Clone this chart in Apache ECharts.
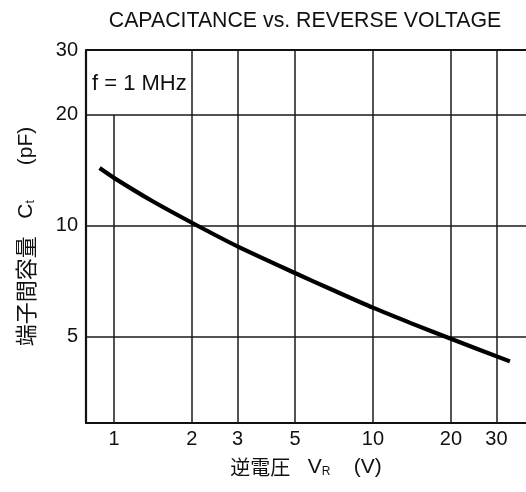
<!DOCTYPE html>
<html>
<head>
<meta charset="utf-8">
<script src="https://cdn.jsdelivr.net/npm/echarts@6/dist/echarts.min.js"></script>
<style>html,body{margin:0;padding:0;background:#fff}#c{width:526px;height:492px}</style>
</head>
<body>
<div id="c"></div>
<script>
// Data (log-log)
const reverseVoltage = [0.88, 1, 1.4, 2, 3, 5, 7, 10, 14, 20, 33.8];          // V_R (V)
const capacitance    = [14.35, 13.5, 11.7, 10.2, 8.8, 7.45, 6.7, 6.0, 5.45, 4.94, 4.29]; // C_t (pF)
const xTicks = [1, 2, 3, 5, 10, 20, 30];
const yTicks = [5, 10, 20, 30];
const xRange = [0.78, 39];
const yRange = [2.92, 30];
const fullVerticalGrid = [2, 3, 5, 10, 20, 30];
const shortVerticalGrid = [1];   // stops at the "f = 1 MHz" box (C = 20)
const boxBottom = 20;
const horizontalGrid = [5, 10, 20];

const FONT = '"Liberation Sans", Arial, "Noto Sans CJK JP", sans-serif';
const CJK = '"Noto Sans CJK JP", sans-serif';
const INK = '#111';

const curve = reverseVoltage.map((v, i) => [v, capacitance[i]]);
const gridLines = [];
fullVerticalGrid.forEach(v => gridLines.push({ xAxis: v }));
shortVerticalGrid.forEach(v => gridLines.push([{ coord: [v, yRange[0]] }, { coord: [v, boxBottom] }]));
horizontalGrid.forEach(c => gridLines.push({ yAxis: c }));
gridLines.push({ yAxis: yRange[1], lineStyle: { width: 2.2, color: INK, type: 'solid' } });

const sub = { fontSize: 12, fontFamily: FONT, color: INK, verticalAlign: 'bottom', padding: [8, 0, 0, 0] };

const chart = echarts.init(document.getElementById('c'), null, { renderer: 'canvas' });
chart.setOption({
  animation: false,
  backgroundColor: '#fff',
  grid: { left: 86, right: 0, top: 50, bottom: 69, containLabel: false },
  xAxis: {
    type: 'log', logBase: 10, min: xRange[0], max: xRange[1],
    name: '{cjk|逆電圧}   V{sub|R}    (V)',
    nameLocation: 'middle', nameGap: 34,
    nameTextStyle: {
      color: INK, fontSize: 21, fontFamily: FONT,
      rich: { sub: sub, cjk: { fontSize: 20, fontFamily: CJK, color: INK } }
    },
    axisLine: { show: true, lineStyle: { color: INK, width: 2.2 } },
    axisTick: { show: false, customValues: xTicks },
    splitLine: { show: false },
    minorTick: { show: false }, minorSplitLine: { show: false },
    axisLabel: { customValues: xTicks, color: INK, fontSize: 20, fontFamily: FONT, margin: 6 }
  },
  yAxis: {
    type: 'log', logBase: 10, min: yRange[0], max: yRange[1],
    name: '{cjk|端子間容量}   C{sub|t}      (pF)',
    nameLocation: 'middle', nameGap: 49, nameRotate: 90,
    nameTextStyle: {
      color: INK, fontSize: 21, fontFamily: FONT,
      rich: { sub: sub, cjk: { fontSize: 22, fontFamily: CJK, color: INK } }
    },
    axisLine: { show: true, lineStyle: { color: INK, width: 2.2 } },
    axisTick: { show: false, customValues: yTicks },
    splitLine: { show: false },
    minorTick: { show: false }, minorSplitLine: { show: false },
    axisLabel: { customValues: yTicks, color: INK, fontSize: 20, fontFamily: FONT, margin: 8 }
  },
  graphic: [
    { type: 'text', x: 305, y: 21, style: { text: 'CAPACITANCE vs. REVERSE VOLTAGE', fill: INK, font: '21.3px ' + FONT, textAlign: 'center', textVerticalAlign: 'middle' } },
    { type: 'text', x: 92, y: 84, z: 10, style: { text: 'f = 1 MHz', fill: INK, font: '22px ' + FONT, textAlign: 'left', textVerticalAlign: 'middle' } }
  ],
  series: [
    {
      type: 'line', data: [], z: 1, silent: true,
      markLine: {
        silent: true, symbol: ['none', 'none'], animation: false,
        label: { show: false },
        lineStyle: { color: '#1a1a1a', width: 1.5, type: 'solid' },
        emphasis: { disabled: true },
        data: gridLines
      }
    },
    {
      type: 'line', data: curve, z: 5, smooth: 0.25, showSymbol: false, symbol: 'none',
      lineStyle: { color: '#000', width: 4.2, cap: 'butt' }, silent: true
    }
  ]
});
</script>
</body>
</html>
